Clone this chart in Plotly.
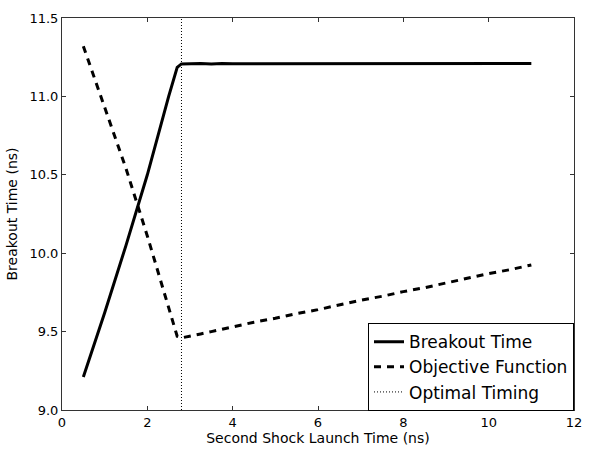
import plotly.graph_objects as go

# Data
launch_times = [0.5, 1.0, 1.5, 2.0, 2.5, 2.7, 2.8, 3.0, 3.25, 3.5, 3.75, 4.0, 4.5,
                5.0, 5.5, 6.0, 6.5, 7.0, 7.5, 8.0, 8.5, 9.0, 9.5, 10.0, 10.5, 11.0]
breakout_time = [9.21, 9.62, 10.05, 10.50, 11.00, 11.185, 11.207, 11.21, 11.21, 11.207,
                 11.21, 11.208, 11.208, 11.209, 11.209, 11.208, 11.208, 11.209, 11.21,
                 11.21, 11.21, 11.21, 11.21, 11.21, 11.21, 11.21]
objective = [11.32, 10.93, 10.54, 10.11, 9.65, 9.47, 9.46, 9.47, 9.485, 9.50, 9.515,
             9.53, 9.56, 9.585, 9.615, 9.64, 9.67, 9.70, 9.725, 9.755, 9.78, 9.81,
             9.84, 9.87, 9.895, 9.925]
optimal_x = [2.8, 2.8]
optimal_y = [9.0, 11.5]

x_ticks = [0, 2, 4, 6, 8, 10, 12]
y_ticks = [9.0, 9.5, 10.0, 10.5, 11.0, 11.5]

FONT = "DejaVu Sans"

fig = go.Figure()
fig.add_trace(go.Scatter(x=launch_times, y=breakout_time, mode="lines",
                         name="Breakout Time",
                         line=dict(color="black", width=3)))
fig.add_trace(go.Scatter(x=launch_times, y=objective, mode="lines",
                         name="Objective Function",
                         line=dict(color="black", width=3, dash="7px,6px")))
fig.add_trace(go.Scatter(x=optimal_x, y=optimal_y, mode="lines",
                         name="Optimal Timing",
                         line=dict(color="black", width=1, dash="1px,2px")))

axis_common = dict(showline=True, linecolor="#333", linewidth=1, mirror="ticks",
                   ticks="inside", ticklen=4, tickcolor="#333", tickwidth=1,
                   showgrid=False, zeroline=False,
                   tickfont=dict(family=FONT, size=13, color="black"))

fig.update_xaxes(range=[0, 12], tickvals=x_ticks,
                 ticktext=[str(v) for v in x_ticks],
                 title=dict(text="Second Shock Launch Time (ns)", standoff=3,
                            font=dict(family=FONT, size=14, color="black")),
                 **axis_common)
fig.update_yaxes(range=[9.0, 11.5], tickvals=y_ticks,
                 ticktext=[f"{v:.1f}" for v in y_ticks],
                 title=dict(text="Breakout Time (ns)", standoff=8,
                            font=dict(family=FONT, size=14, color="black")),
                 **axis_common)

fig.update_layout(
    width=593, height=453,
    margin=dict(l=62, r=11, t=13, b=39),
    paper_bgcolor="white", plot_bgcolor="white",
    font=dict(family=FONT, color="black"),
    showlegend=True,
    legend=dict(x=1.0, y=-0.003, xanchor="right", yanchor="bottom",
                bgcolor="white", bordercolor="black", borderwidth=1,
                font=dict(family=FONT, size=17, color="black"),
                itemwidth=30),
)

fig.write_html("out.html")
